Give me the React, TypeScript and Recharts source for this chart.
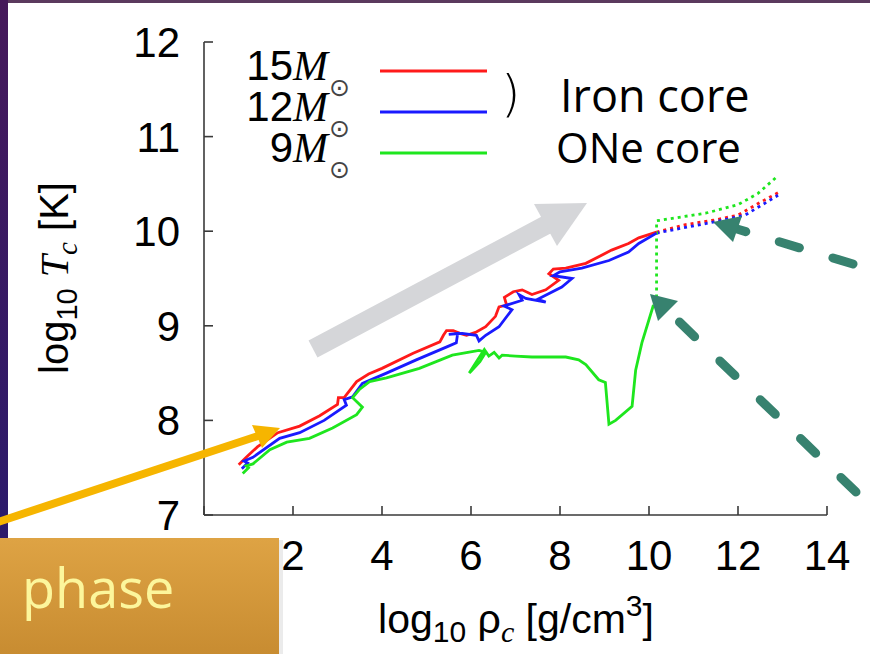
import React from 'react';
import { LineChart, Line, XAxis, YAxis, Legend } from 'recharts';

// log10 rho_c / log10 T_c tracks
const rho15 = [0.78, 0.95, 1.2, 1.66, 2.15, 2.6, 3.0, 3.02, 3.15, 3.43, 3.7, 4.0, 4.7, 5.3, 5.38, 5.45, 5.6, 5.75, 5.9, 6.1, 6.33, 6.55, 6.63, 6.8, 6.75, 6.95, 7.15, 7.37, 7.68, 7.97, 7.75, 7.85, 8.13, 8.58, 9.16, 9.54, 9.77, 10.17];
const logT15 = [7.53, 7.61, 7.72, 7.87, 7.94, 8.05, 8.17, 8.24, 8.24, 8.41, 8.49, 8.55, 8.71, 8.83, 8.9, 8.95, 8.95, 8.92, 8.9, 8.93, 8.99, 9.1, 9.2, 9.22, 9.3, 9.36, 9.38, 9.33, 9.38, 9.48, 9.55, 9.6, 9.61, 9.66, 9.8, 9.87, 9.93, 9.99];
const rho15End = [10.17, 10.82, 11.49, 12.0, 12.52, 12.95];
const logT15End = [9.99, 10.07, 10.12, 10.17, 10.31, 10.42];

const rho12 = [0.85, 0.98, 0.9, 1.1, 1.7, 2.15, 2.7, 3.2, 3.15, 3.34, 3.56, 4.1, 4.77, 5.47, 5.67, 5.7, 5.5, 5.8, 6.12, 6.18, 6.33, 6.63, 6.92, 6.74, 7.15, 7.08, 7.23, 7.68, 7.5, 8.04, 8.27, 7.85, 8.0, 8.49, 9.1, 9.54, 9.77, 10.17];
const logT12 = [7.49, 7.55, 7.57, 7.61, 7.81, 7.87, 8.0, 8.16, 8.22, 8.25, 8.39, 8.5, 8.64, 8.78, 8.82, 8.92, 8.91, 8.92, 8.9, 8.84, 8.9, 8.99, 9.17, 9.21, 9.27, 9.33, 9.29, 9.25, 9.28, 9.41, 9.5, 9.53, 9.57, 9.61, 9.69, 9.78, 9.87, 9.98];
const rho12End = [10.17, 10.82, 11.49, 12.16, 12.9];
const logT12End = [9.98, 10.04, 10.1, 10.17, 10.38];

const rho9 = [0.87, 1.0, 0.95, 1.1, 1.48, 1.86, 2.37, 2.89, 3.43, 3.56, 3.34, 3.5, 3.72, 4.1, 4.84, 5.58, 6.18, 6.33, 6.2, 6.0, 5.96, 6.15, 6.3, 6.4, 6.52, 6.63, 6.7, 7.0, 7.37, 8.13, 8.42, 8.58, 8.87, 9.02, 9.1, 9.25, 9.62, 9.7, 9.84, 10.1];
const logT9 = [7.44, 7.5, 7.52, 7.54, 7.69, 7.77, 7.81, 7.92, 8.06, 8.14, 8.24, 8.33, 8.41, 8.45, 8.55, 8.69, 8.74, 8.72, 8.62, 8.52, 8.5, 8.64, 8.75, 8.68, 8.72, 8.66, 8.69, 8.68, 8.67, 8.67, 8.64, 8.59, 8.43, 8.4, 7.96, 8.0, 8.15, 8.53, 8.82, 9.22];
const rho9End = [10.17, 10.17, 11.27, 12.0, 12.45, 12.86];
const logT9End = [9.3, 10.11, 10.19, 10.28, 10.4, 10.57];

const massNames = ['15', '12', '9'];
const massColors = ['#ff1a1a', '#1a1aff', '#1ee61e'];
const xTicks = [0, 2, 4, 6, 8, 10, 12, 14];
const yTicks = [7, 8, 9, 10, 11, 12];

const toPoints = (xs: number[], ys: number[]) => xs.map((x, i) => ({ rho: x, temp: ys[i] }));

const W = 870;
const H = 654;
const tickFont = { fontSize: 42, fill: '#000', fontFamily: 'Liberation Sans' };
const axisColor = '#3a3a3a';
const teal = '#37826f';

const renderLegend = (props: any) => {
  const items = (props.payload || [])
    .filter((p: any) => massNames.includes(p.value))
    .sort((a: any, b: any) => massNames.indexOf(a.value) - massNames.indexOf(b.value));
  return (
    <svg width={W} height={200} style={{ overflow: 'visible' }}>
      {items.map((entry: any, i: number) => {
        const base = 80 + i * 41;
        return (
          <g key={entry.value}>
            <text x={328} y={base} textAnchor="end" fontFamily="Liberation Sans" fontSize={42} fill="#000">
              {entry.value}
              <tspan fontFamily="Liberation Serif" fontStyle="italic">M</tspan>
            </text>
            <text x={329} y={base + 16} fontFamily="DejaVu Sans" fontSize={25} fill="#444">⊙</text>
            <line x1={380} x2={487} y1={base - 9} y2={base - 9} stroke={entry.color} strokeWidth={2.8} />
          </g>
        );
      })}
    </svg>
  );
};

const emptyTick = () => <g />;

export default function App() {
  const series = [
    { name: massNames[0], color: massColors[0], main: toPoints(rho15, logT15), end: toPoints(rho15End, logT15End) },
    { name: massNames[1], color: massColors[1], main: toPoints(rho12, logT12), end: toPoints(rho12End, logT12End) },
    { name: massNames[2], color: massColors[2], main: toPoints(rho9, logT9), end: toPoints(rho9End, logT9End) },
  ];

  return (
    <div style={{ position: 'absolute', left: 0, top: 0, width: W, height: H, overflow: 'hidden', background: '#fff' }}>
      <svg width={W} height={H} style={{ position: 'absolute', left: 0, top: 0 }}>
        <defs>
          <linearGradient id="slideEdge" x1="0" y1="0" x2="0" y2="1">
            <stop offset="0" stopColor="#46195a" />
            <stop offset="1" stopColor="#2b1a6c" />
          </linearGradient>
        </defs>
        <rect x={0} y={0} width={W} height={3} fill="#5b3a5e" />
        <rect x={0} y={0} width={8} height={540} fill="url(#slideEdge)" />
      </svg>

      <div style={{ position: 'absolute', left: 0, top: 0 }}>
        <LineChart width={W} height={H} margin={{ top: 42, right: 43, bottom: 79, left: 84 }}>
          <XAxis
            dataKey="rho"
            type="number"
            domain={[0, 14]}
            ticks={xTicks}
            interval={0}
            allowDataOverflow
            height={60}
            stroke={axisColor}
            strokeWidth={1.6}
            tickSize={-9}
            tickMargin={34}
            tick={tickFont}
          />
          <XAxis
            xAxisId="top"
            orientation="top"
            type="number"
            domain={[0, 14]}
            ticks={xTicks}
            interval={0}
            height={0}
            stroke={axisColor}
            strokeWidth={1.6}
            tickSize={-9}
            tick={emptyTick}
          />
          <YAxis
            type="number"
            domain={[7, 12]}
            ticks={yTicks}
            interval={0}
            allowDataOverflow
            width={120}
            stroke={axisColor}
            strokeWidth={1.6}
            tickSize={-9}
            tickMargin={33}
            tick={tickFont}
          />
          <YAxis
            yAxisId="right"
            orientation="right"
            type="number"
            domain={[7, 12]}
            ticks={yTicks}
            interval={0}
            width={0}
            stroke={axisColor}
            strokeWidth={1.6}
            tickSize={-9}
            tick={emptyTick}
          />
          <Legend
            layout="vertical"
            align="center"
            verticalAlign="middle"
            content={renderLegend}
            wrapperStyle={{ left: 0, top: 0, width: W, height: 200 }}
          />
          {series.map((s) => (
            <Line
              key={`end-${s.name}`}
              data={s.end}
              dataKey="temp"
              name={`${s.name}-end`}
              legendType="none"
              stroke={s.color}
              strokeWidth={2.8}
              strokeDasharray="3 4"
              dot={false}
              activeDot={false}
              isAnimationActive={false}
            />
          ))}
          {series.map((s) => (
            <Line
              key={s.name}
              data={s.main}
              dataKey="temp"
              name={s.name}
              stroke={s.color}
              strokeWidth={2.8}
              dot={false}
              activeDot={false}
              isAnimationActive={false}
            />
          ))}
        </LineChart>
      </div>

      <svg width={W} height={H} style={{ position: 'absolute', left: 0, top: 0, pointerEvents: 'none' }}>
        <defs>
          <linearGradient id="boxFill" x1="0" y1="0" x2="0" y2="1">
            <stop offset="0" stopColor="#dea344" />
            <stop offset="1" stopColor="#c88c31" />
          </linearGradient>
        </defs>

        {/* axis titles */}
        <text
          x={68}
          y={278}
          transform="rotate(-90 68 278)"
          textAnchor="middle"
          fontFamily="Liberation Sans"
          fontSize={40}
          fill="#000"
        >
          log<tspan dy={9} fontSize={29}>10</tspan>
          <tspan dy={-9}> </tspan>
          <tspan fontFamily="Liberation Serif" fontStyle="italic">T</tspan>
          <tspan dy={9} fontSize={29} fontFamily="Liberation Serif" fontStyle="italic">c</tspan>
          <tspan dy={-9}> [K]</tspan>
        </text>
        <text x={516} y={633} textAnchor="middle" fontFamily="Liberation Sans" fontSize={41} fill="#000">
          log<tspan dy={9} fontSize={30}>10</tspan>
          <tspan dy={-9}> ρ</tspan>
          <tspan dy={9} fontSize={30} fontFamily="Liberation Serif" fontStyle="italic">c</tspan>
          <tspan dy={-9}> [g/cm</tspan>
          <tspan dy={-17} fontSize={30}>3</tspan>
          <tspan dy={17}>]</tspan>
        </text>

        {/* core labels */}
        <text x={501} y={111} fontFamily="DejaVu Sans" fontWeight={300} fontSize={50} fill="#000">)</text>
        <text x={560} y={112} fontFamily="Open Sans" fontSize={45} fill="#000">Iron core</text>
        <text x={556} y={163} fontFamily="Open Sans" fontSize={42} fill="#000">ONe core</text>

        {/* gray arrow */}
        <line x1={313} y1={349} x2={548} y2={224} stroke="#d5d6d9" strokeWidth={19} />
        <polygon points="587,203 534,204 557,246" fill="#d5d6d9" />

        {/* teal dashed arrows */}
        <line x1={853} y1={264} x2={737} y2={229} stroke={teal} strokeWidth={9} strokeLinecap="round" strokeDasharray="21 35" />
        <polygon points="713,222 742,216 733,242" fill={teal} />
        <line x1={856} y1={492} x2={668} y2={311} stroke={teal} strokeWidth={9} strokeLinecap="round" strokeDasharray="21 35" />
        <polygon points="650,294 678,301 658,321" fill={teal} />

        {/* orange arrow */}
        <line x1={-5} y1={523} x2={258} y2={436} stroke="#f6b500" strokeWidth={8} />
        <polygon points="280,428 252,425 262,448" fill="#f6b500" />

        {/* slide caption box */}
        <rect x={279} y={540} width={4} height={114} fill="#000" opacity={0.08} />
        <rect x={0} y={538} width={279} height={116} fill="url(#boxFill)" />
        <text x={4} y={608} textAnchor="end" fontFamily="Open Sans" fontSize={54} fill="#fcf69c">n</text>
        <text x={22} y={608} fontFamily="Open Sans" fontSize={54} fill="#fcf69c">phase</text>
      </svg>
    </div>
  );
}
